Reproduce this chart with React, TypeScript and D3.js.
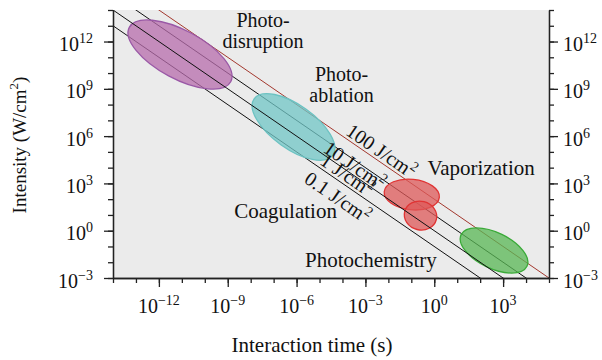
import * as d3 from "d3";
import { useEffect, useRef } from "react";

// fluence lines (J/cm^2): I = F / t
const fluences = [0.1, 1, 10, 100];
const fluenceText = ["0.1 J/cm", "1 J/cm", "10 J/cm", "100 J/cm"];
const fluenceLabelLogT = [-5.2, -4.79, -4.62, -3.98];

// interaction regions, ellipses given by the two tips of the long axis (log10 units)
const regionNames = ["Photodisruption", "Photoablation", "Vaporization", "Coagulation", "Photochemistry"];
const regionStartLogT = [-13.29, -7.85, -2.18, -1.29, 1.17];
const regionStartLogI = [12.9, 8.37, 2.48, 1.21, -0.25];
const regionEndLogT = [-8.87, -4.42, 0.22, 0.09, 4.04];
const regionEndLogI = [9.45, 4.79, 2.11, 0.71, -2.26];
const regionWidthRatio = [0.42, 0.45, 0.55, 0.88, 0.49];

// region captions
const captionLines = [["Photo-", "disruption"], ["Photo-", "ablation"], ["Vaporization"], ["Coagulation"], ["Photochemistry"]];
const captionLogT = [-7.46, -4.04, 2.04, -6.48, -2.76];
const captionLogI = [12.93, 9.52, 3.53, 0.81, -2.3];

const xMajorExp = [-12, -9, -6, -3, 0, 3];
const yMajorExp = [-3, 0, 3, 6, 9, 12];
const xMinorExp = d3.range(-14, 6);
const yMinorExp = d3.range(-3, 15);

const fills = ["#b76cac", "#70c6c6", "#de5858", "#de5858", "#58b754"];
const strokes = ["#9a58a6", "#6cc2c2", "#e03434", "#e03434", "#3aaa38"];
const FONT = "Liberation Serif, Times New Roman, serif";

const exp = (e: number) => (e < 0 ? "\u2212" + Math.abs(e) : String(e));

const App = () => {
    const ref = useRef<SVGSVGElement>(null);

    useEffect(() => {
        if (!ref.current) return;
        const svg = d3.select(ref.current);
        svg.selectAll("*").remove();

        const x = d3.scaleLog().domain([1e-14, 1e5]).range([113, 549]);
        const y = d3.scaleLog().domain([1e-3, 1e14]).range([278, 10]);
        const [xl, xr] = x.range();
        const [yb, yt] = y.range();

        svg.append("defs").append("clipPath").attr("id", "plotClip")
            .append("rect").attr("x", xl).attr("y", yt).attr("width", xr - xl).attr("height", yb - yt);

        svg.append("rect")
            .attr("x", xl).attr("y", yt).attr("width", xr - xl).attr("height", yb - yt)
            .attr("fill", "#ebebeb");

        const tDomain = x.domain();
        const fluenceLine = (F: number) =>
            d3.line<number>().x((t) => x(t)).y((t) => y(F / t))(tDomain);

        const lineColor = (F: number) => (F === 100 ? "#a3382e" : "#111");

        // lines below the regions
        svg.append("g").attr("clip-path", "url(#plotClip)")
            .selectAll("path")
            .data(fluences.filter((F) => F !== 1))
            .enter().append("path")
            .attr("d", (F) => fluenceLine(F))
            .attr("fill", "none")
            .attr("stroke", (F) => lineColor(F))
            .attr("stroke-width", 1);

        // regions
        regionNames.forEach((name, i) => {
            const ax = x(10 ** regionStartLogT[i]), ay = y(10 ** regionStartLogI[i]);
            const bx = x(10 ** regionEndLogT[i]), by = y(10 ** regionEndLogI[i]);
            const cx = (ax + bx) / 2, cy = (ay + by) / 2;
            const rx = Math.hypot(bx - ax, by - ay) / 2;
            const ang = (Math.atan2(by - ay, bx - ax) * 180) / Math.PI;
            svg.append("ellipse")
                .attr("class", name)
                .attr("cx", cx).attr("cy", cy)
                .attr("rx", rx).attr("ry", rx * regionWidthRatio[i])
                .attr("transform", `rotate(${ang},${cx},${cy})`)
                .attr("fill", fills[i]).attr("fill-opacity", 0.75)
                .attr("stroke", strokes[i]).attr("stroke-width", 1.3);
        });

        // 1 J/cm2 line above the regions
        svg.append("path").attr("clip-path", "url(#plotClip)")
            .attr("d", fluenceLine(1))
            .attr("fill", "none").attr("stroke", "#111").attr("stroke-width", 1);

        // axes
        const styleAxis = (g: d3.Selection<SVGGElement, unknown, null, undefined>) => {
            g.selectAll("path, line").attr("stroke", "#222").attr("stroke-width", 1.3);
            g.selectAll("text").remove();
        };
        const ax = (axis: d3.Axis<d3.NumberValue>, tr: string) =>
            svg.append("g").attr("transform", tr).call(axis).call(styleAxis);

        const xMinor = xMinorExp.map((e) => 10 ** e);
        const xMajor = xMajorExp.map((e) => 10 ** e);
        const yMinor = yMinorExp.map((e) => 10 ** e);
        const yMajor = yMajorExp.map((e) => 10 ** e);

        ax(d3.axisBottom(x).tickValues(xMinor).tickSize(5).tickSizeOuter(0), `translate(0,${yb})`);
        ax(d3.axisBottom(x).tickValues(xMajor).tickSize(9).tickSizeOuter(0), `translate(0,${yb})`);
        ax(d3.axisLeft(y).tickValues(yMinor).tickSize(5).tickSizeOuter(0), `translate(${xl},0)`);
        ax(d3.axisLeft(y).tickValues(yMajor).tickSize(9).tickSizeOuter(0), `translate(${xl},0)`);
        ax(d3.axisRight(y).tickValues(yMinor).tickSize(5).tickSizeOuter(0), `translate(${xr},0)`);
        ax(d3.axisRight(y).tickValues(yMajor).tickSize(9).tickSizeOuter(0), `translate(${xr},0)`);

        const powLabel = (g: d3.Selection<SVGTextElement, number, SVGGElement, unknown>) => {
            g.append("tspan").text("10");
            g.append("tspan").attr("dy", -8).attr("font-size", 14).text((e) => exp(e));
        };

        const labels = svg.append("g").attr("fill", "#111");
        const text = () => labels.append("text").attr("font-family", FONT).attr("font-size", 20);

        labels.append("g").selectAll("text").data(xMajorExp).enter().append("text")
            .attr("font-family", FONT).attr("font-size", 20)
            .attr("x", (e) => x(10 ** e)).attr("y", yb + 35)
            .attr("text-anchor", "middle").call(powLabel);

        labels.append("g").selectAll("text").data(yMajorExp).enter().append("text")
            .attr("font-family", FONT).attr("font-size", 20)
            .attr("x", xl - 20).attr("y", (e) => y(10 ** e) + 9.5)
            .attr("text-anchor", "end").call(powLabel);

        labels.append("g").selectAll("text").data(yMajorExp).enter().append("text")
            .attr("font-family", FONT).attr("font-size", 20)
            .attr("x", xr + 14).attr("y", (e) => y(10 ** e) + 9.5)
            .attr("text-anchor", "start").call(powLabel);

        // axis titles
        text()
            .attr("x", 312).attr("y", 352).attr("text-anchor", "middle")
            .attr("font-size", 21)
            .text("Interaction time (s)");

        const yTitle = text()
            .attr("transform", `translate(26,${(yb + yt) / 2 + 1}) rotate(-90)`)
            .attr("text-anchor", "middle")
            .attr("font-size", 19);
        yTitle.append("tspan").text("Intensity (W/cm");
        yTitle.append("tspan").attr("dy", -8).attr("font-size", 13).text("2");
        yTitle.append("tspan").attr("dy", 8).text(")");

        // fluence line labels
        const slope = (Math.atan2(y(1e-1) - y(1), x(10) - x(1)) * 180) / Math.PI;
        const offsets = [21, 10, 11, -3];
        fluences.forEach((F, i) => {
            const t = 10 ** fluenceLabelLogT[i];
            const t0 = text()
                .attr("transform", `translate(${x(t)},${y(F / t)}) rotate(${slope})`)
                .attr("x", 0).attr("y", offsets[i]);
            t0.append("tspan").text(fluenceText[i]);
            t0.append("tspan").attr("dy", -8).attr("font-size", 14).text("2");
        });

        // region captions
        captionLines.forEach((lines, i) => {
            lines.forEach((s, j) => {
                text()
                    .attr("text-anchor", "middle")
                    .attr("font-size", lines.length > 1 ? 20 : 21)
                    .attr("x", x(10 ** captionLogT[i]))
                    .attr("y", y(10 ** captionLogI[i]) + j * 21)
                    .text(s);
            });
        });
    }, []);

    return (
        <svg
            ref={ref}
            width={602}
            height={360}
            style={{ position: "absolute", left: 0, top: 0, background: "#fff" }}
        />
    );
};

export default App;
